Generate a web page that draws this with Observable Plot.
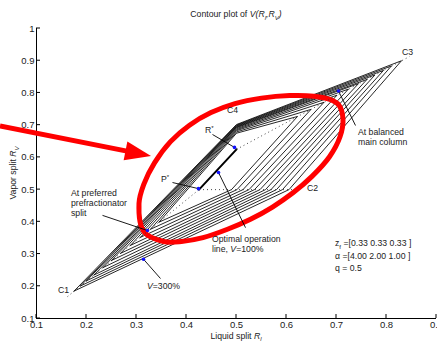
<!DOCTYPE html>
<html><head><meta charset="utf-8">
<script src="https://cdn.jsdelivr.net/npm/d3@7"></script>
<script src="https://cdn.jsdelivr.net/npm/@observablehq/plot@0.6"></script>
<style>
body{margin:0;background:#fff}
svg{font-family:"Liberation Sans",Arial,Helvetica,sans-serif}
</style>
</head><body><div id="chart"></div>
<script>
// ---- data ----
const xTicks = [0.1, 0.2, 0.3, 0.4, 0.5, 0.6, 0.7, 0.8, 0.9];
const yTicks = [0.1, 0.2, 0.3, 0.4, 0.5, 0.6, 0.7, 0.8, 0.9, 1];

// contour polygons (outermost first): vertices A (lower-left tip), U (upper corner),
// B (upper-right tip), L (lower corner)
const contourAx = [0.175, 0.188, 0.200, 0.215, 0.233, 0.250, 0.268, 0.288, 0.308, 0.328, 0.345];
const contourAy = [0.185, 0.201, 0.217, 0.235, 0.258, 0.280, 0.302, 0.327, 0.352, 0.377, 0.399];
const contourUx = [0.5, 0.5, 0.5, 0.5, 0.5, 0.5, 0.5, 0.5, 0.5, 0.5, 0.5];
const contourUy = [0.702, 0.700, 0.698, 0.696, 0.694, 0.692, 0.689, 0.686, 0.683, 0.679, 0.675];
const contourBx = [0.830, 0.810, 0.794, 0.777, 0.761, 0.744, 0.724, 0.701, 0.675, 0.649, 0.622];
const contourBy = [0.900, 0.884, 0.870, 0.856, 0.842, 0.829, 0.812, 0.793, 0.771, 0.749, 0.727];
const contourLx = [0.605, 0.592, 0.580, 0.569, 0.558, 0.547, 0.536, 0.525, 0.513, 0.501, 0.490];
const contourLy = [0.5, 0.5, 0.5, 0.5, 0.5, 0.5, 0.5, 0.5, 0.5, 0.5, 0.5];

// dotted guide lines: C1..P*, P*..C2, R*..C3
const guideX1 = [0.162, 0.425, 0.500];
const guideY1 = [0.168, 0.500, 0.625];
const guideX2 = [0.425, 0.615, 0.846];
const guideY2 = [0.500, 0.500, 0.913];

// optimal operation line P* -> R*
const optimalX = [0.425, 0.500];
const optimalY = [0.500, 0.625];

// corner labels
const cornerLabels = ["C1", "C2", "C3", "C4"];
const cornerLabelX = [0.154, 0.652, 0.842, 0.492];
const cornerLabelY = [0.187, 0.503, 0.926, 0.746];
const cornerAnchor = ["end", "start", "start", "start"];

// annotation leaders (text end -> blue head)
const leaderX1 = [0.452, 0.372, 0.232, 0.348, 0.518, 0.738];
const leaderY1 = [0.671, 0.522, 0.420, 0.224, 0.382, 0.699];
const leaderX2 = [0.496, 0.424, 0.322, 0.314, 0.464, 0.704];
const leaderY2 = [0.631, 0.503, 0.373, 0.284, 0.553, 0.806];

// red hand-drawn highlight outline
const highlightX = [0.315, 0.305, 0.315, 0.336, 0.368, 0.406, 0.449, 0.497, 0.550, 0.606, 0.655, 0.687,
  0.705, 0.713, 0.707, 0.686, 0.651, 0.613, 0.572, 0.528, 0.482, 0.433, 0.390, 0.354];
const highlightY = [0.369, 0.457, 0.518, 0.583, 0.649, 0.700, 0.739, 0.767, 0.784, 0.792, 0.790, 0.780,
  0.762, 0.719, 0.664, 0.602, 0.541, 0.490, 0.446, 0.408, 0.377, 0.351, 0.339, 0.339];
const redArrowFrom = [0.028, 0.696];
const redArrowTo = [0.330, 0.603];

// ---- build tables ----
const contourRows = contourAx.flatMap((ax, i) => [
  {id: i, x: ax, y: contourAy[i]},
  {id: i, x: contourUx[i], y: contourUy[i]},
  {id: i, x: contourBx[i], y: contourBy[i]},
  {id: i, x: contourLx[i], y: contourLy[i]},
  {id: i, x: ax, y: contourAy[i]}
]);
const guides = guideX1.map((d, i) => ({x1: d, y1: guideY1[i], x2: guideX2[i], y2: guideY2[i]}));
const optimal = optimalX.map((d, i) => ({x: d, y: optimalY[i]}));
const leaders = leaderX1.map((d, i) => ({x1: d, y1: leaderY1[i], x2: leaderX2[i], y2: leaderY2[i]}));
const corners = cornerLabels.map((t, i) => ({t, x: cornerLabelX[i], y: cornerLabelY[i], a: cornerAnchor[i]}));
const highlight = highlightX.map((d, i) => ({x: d, y: highlightY[i]}));

const fmt = d => String(+d.toFixed(1));

const plot = Plot.plot({
  width: 437,
  height: 342,
  marginTop: 28,
  marginBottom: 24,
  marginLeft: 36,
  marginRight: 1,
  style: {background: "white", fontFamily: "Liberation Sans, Arial, Helvetica, sans-serif"},
  x: {domain: [0.1, 0.9]},
  y: {domain: [0.1, 1]},
  marks: [
    Plot.axisX({ticks: xTicks, tickSize: 0, tickPadding: 2.5, fontSize: 9.5, tickFormat: fmt, label: null, color: "#222"}),
    Plot.axisY({ticks: yTicks, tickSize: 0, tickPadding: 2, fontSize: 9.5, tickFormat: fmt, label: null, color: "#222"}),
    Plot.ruleX([0.1], {stroke: "black", strokeWidth: 1}),
    Plot.ruleY([0.1], {stroke: "black", strokeWidth: 1}),
    Plot.line(contourRows, {x: "x", y: "y", z: "id", stroke: "black", strokeWidth: 0.85, strokeLinejoin: "miter", strokeMiterlimit: 20}),
    Plot.link(guides, {x1: "x1", y1: "y1", x2: "x2", y2: "y2", stroke: "#333", strokeWidth: 0.9, strokeDasharray: "1,3"}),
    Plot.line(optimal, {x: "x", y: "y", stroke: "black", strokeWidth: 2}),
    Plot.line(highlight, {x: "x", y: "y", curve: "catmull-rom-closed", stroke: "#ff0000", strokeWidth: 5}),
    Plot.link(leaders, {x1: "x1", y1: "y1", x2: "x2", y2: "y2", stroke: "black", strokeWidth: 0.9}),
    Plot.dot(leaders, {x: "x2", y: "y2", r: 1.8, fill: "#1010ff", stroke: "none"}),
    Plot.text(corners, {x: "x", y: "y", text: "t", textAnchor: "a", fontSize: 8.7, fill: "#222"})
  ]
});

const svg = d3.select(plot);
const sx = plot.scale("x"), sy = plot.scale("y");
const X = v => sx.apply(v), Y = v => sy.apply(v);

// inward ticks
const tk = svg.append("g").attr("stroke", "black").attr("stroke-width", 1);
xTicks.forEach(t => tk.append("line").attr("x1", X(t)).attr("x2", X(t)).attr("y1", Y(0.1)).attr("y2", Y(0.1) - 4));
yTicks.forEach(t => tk.append("line").attr("y1", Y(t)).attr("y2", Y(t)).attr("x1", X(0.1)).attr("x2", X(0.1) + 4));

// red arrow
{
  const red = svg.append("g");
  const x0 = X(redArrowFrom[0]), y0 = Y(redArrowFrom[1]);
  const x1 = X(redArrowTo[0]), y1 = Y(redArrowTo[1]);
  const L = Math.hypot(x1 - x0, y1 - y0), ux = (x1 - x0) / L, uy = (y1 - y0) / L;
  const hl = 26, hw = 9.5;
  const bx = x1 - ux * hl, by = y1 - uy * hl;
  red.append("line").attr("x1", x0).attr("y1", y0).attr("x2", bx + ux * 4).attr("y2", by + uy * 4)
    .attr("stroke", "#ff0000").attr("stroke-width", 5);
  red.append("path").attr("d", `M${x1},${y1}L${bx - uy * hw},${by + ux * hw}L${bx + uy * hw},${by - ux * hw}Z`)
    .attr("fill", "#ff0000");
}
svg.selectAll('g[aria-label="link"], g[aria-label="dot"]').raise();

// rich text helper
function rich(x, y, parts, size = 8.7, anchor = "start", transform = null) {
  const t = svg.append("text").attr("x", x).attr("y", y).attr("font-size", size)
    .attr("text-anchor", anchor).attr("fill", "#222");
  if (transform) t.attr("transform", transform);
  let shift = 0, first = true;
  for (const p of parts) {
    const s = t.append("tspan").text(p.t);
    if (p.i) s.attr("font-style", "italic");
    const target = p.sub ? 2.6 : p.sup ? -3.5 : 0;
    let dy = target - shift;
    if (first) dy += size * 0.35;
    if (dy !== 0) s.attr("dy", dy);
    shift = target; first = false;
    if (p.sub || p.sup) s.attr("font-size", size * 0.7);
  }
  return t;
}

const midX = (X(0.1) + X(0.9)) / 2, midY = (Y(0.1) + Y(1)) / 2;
rich(midX, 14, [{t: "Contour plot of "}, {t: "V", i: 1}, {t: "(R", i: 1}, {t: "l", i: 1, sub: 1}, {t: ",R", i: 1}, {t: "V", i: 1, sub: 1}, {t: ")", i: 1}], 8.7, "middle");
rich(midX, 335.5, [{t: "Liquid split "}, {t: "R", i: 1}, {t: "l", i: 1, sub: 1}], 8.7, "middle");
rich(0, 0, [{t: "Vapor split "}, {t: "R", i: 1}, {t: "V", i: 1, sub: 1}], 8.7, "middle", `translate(13,${midY}) rotate(-90)`);

rich(X(0.438), Y(0.683), [{t: "R"}, {t: "*", sup: 1}]);
rich(X(0.350), Y(0.531), [{t: "P"}, {t: "*", sup: 1}]);
rich(X(0.170), Y(0.488), [{t: "At preferred"}]);
rich(X(0.170), Y(0.457), [{t: "prefractionator"}]);
rich(X(0.170), Y(0.426), [{t: "split"}]);
rich(X(0.322), Y(0.199), [{t: "V", i: 1}, {t: "=300%"}]);
rich(X(0.452), Y(0.345), [{t: "Optimal operation"}]);
rich(X(0.452), Y(0.314), [{t: "line, "}, {t: "V", i: 1}, {t: "=100%"}]);
rich(X(0.744), Y(0.677), [{t: "At balanced"}]);
rich(X(0.744), Y(0.646), [{t: "main column"}]);
rich(X(0.698), Y(0.333), [{t: "z"}, {t: "f", sub: 1}, {t: " =[0.33 0.33 0.33 ]"}]);
rich(X(0.698), Y(0.292), [{t: "α =[4.00 2.00 1.00 ]"}]);
rich(X(0.698), Y(0.255), [{t: "q = 0.5"}]);

document.getElementById("chart").appendChild(plot);
</script>
</body></html>
